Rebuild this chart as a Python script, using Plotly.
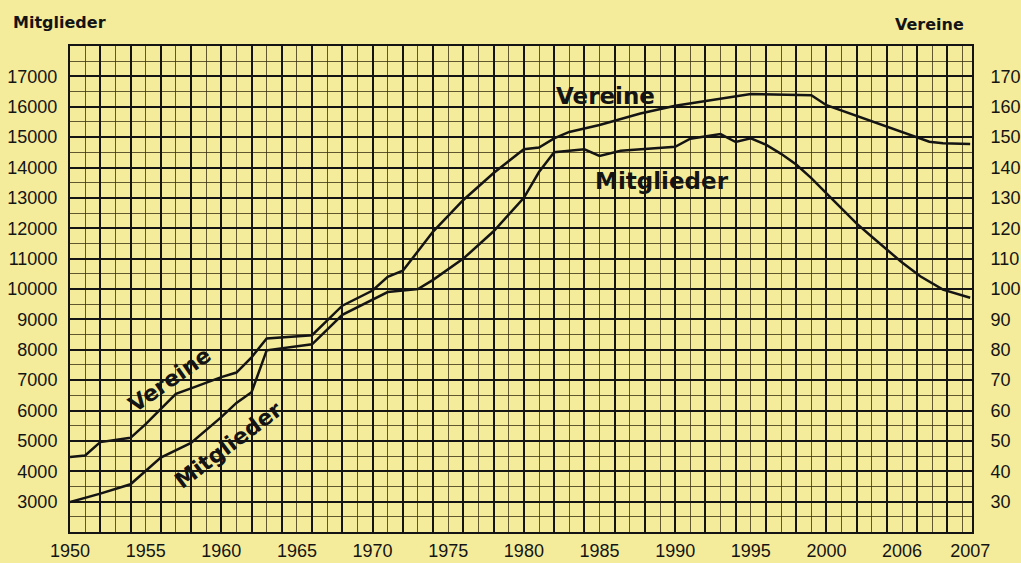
import plotly.graph_objects as go

# ---- data (x = position on the chart's time axis) ----
years_vereine = [1950, 1951, 1952, 1954, 1955, 1957, 1958, 1960, 1961, 1962, 1963, 1966,
                 1968, 1969, 1970, 1971, 1972, 1974, 1976, 1978, 1980, 1981, 1982, 1983,
                 1985, 1987.7, 1990, 1995, 1999, 2000, 2006, 2006.8, 2007.7, 2009.5]
vereine = [44.7, 45.2, 49.6, 51.0, 55.5, 65.5, 67.3, 71.0, 72.5, 77.5, 83.7, 84.8,
           94.5, 97.0, 99.5, 104.0, 106.0, 118.9, 129.3, 138.2, 146.0, 146.6, 149.6, 151.7,
           154.0, 157.8, 160.3, 164.2, 163.8, 160.5, 150.0, 148.5, 148.0, 147.7]

years_mitglieder = [1950, 1952, 1954, 1956, 1958, 1960, 1961, 1962, 1963, 1966, 1968, 1970,
                    1971, 1972, 1973, 1974, 1975, 1976, 1978, 1980, 1981, 1982, 1984, 1985,
                    1986.4, 1990, 1991, 1993, 1994, 1995, 1996, 1997, 1998, 1999, 2000,
                    2001, 2002, 2003, 2004, 2005, 2006.2, 2007.7, 2009.5]
mitglieder = [2990, 3262, 3570, 4450, 4930, 5780, 6250, 6600, 7980, 8180, 9150, 9650,
              9900, 9950, 10000, 10300, 10650, 11000, 11900, 13000, 13850, 14500, 14600, 14380,
              14550, 14680, 14950, 15100, 14840, 14960, 14750, 14450, 14100, 13650, 13150,
              12650, 12150, 11720, 11290, 10870, 10420, 9980, 9710]

x_tick_labels = ["1950", "1955", "1960", "1965", "1970", "1975", "1980", "1985",
                 "1990", "1995", "2000", "2006", "2007"]
x_tick_pos = [1950, 1955, 1960, 1965, 1970, 1975, 1980, 1985, 1990, 1995, 2000, 2005, 2009.5]
y_left_ticks = list(range(3000, 17001, 1000))
y_right_ticks = list(range(30, 171, 10))

BG = "#F5EC9B"
INK = "#141414"
FONT = "Liberation Sans, Arial, sans-serif"
BOLD = "DejaVu Sans, Arial, sans-serif"

fig = go.Figure()
fig.add_trace(go.Scatter(x=years_mitglieder, y=mitglieder, mode="lines",
                         line=dict(color=INK, width=2.5), xaxis="x", yaxis="y",
                         showlegend=False, hoverinfo="skip"))
fig.add_trace(go.Scatter(x=years_vereine, y=vereine, mode="lines",
                         line=dict(color=INK, width=2.5), xaxis="x", yaxis="y2",
                         showlegend=False, hoverinfo="skip"))
# same Mitglieder series bound to the label axis so that it is rendered (invisible)
fig.add_trace(go.Scatter(x=years_mitglieder, y=mitglieder, mode="lines",
                         line=dict(color="rgba(0,0,0,0)", width=0), xaxis="x2", yaxis="y",
                         showlegend=False, hoverinfo="skip"))

xr = [1950, 2009.62]
fig.update_layout(
    width=1021, height=563, autosize=False,
    margin=dict(l=70, r=49, t=46, b=31, autoexpand=False),
    paper_bgcolor=BG, plot_bgcolor=BG,
    font=dict(family=FONT, size=18, color=INK),
    xaxis=dict(range=xr, tick0=1950, dtick=2, showticklabels=False, ticks="",
               automargin=False,
               showgrid=True, gridcolor=INK, gridwidth=2,
               minor=dict(dtick=1, tick0=1950, showgrid=True,
                          gridcolor="rgba(60,50,20,0.8)", gridwidth=1),
               showline=True, linecolor=INK, linewidth=2, mirror=True, zeroline=False),
    xaxis2=dict(range=xr, overlaying="x", side="bottom", anchor="y", automargin=False,
                tickmode="array", tickvals=x_tick_pos, ticktext=x_tick_labels,
                ticks="outside", ticklen=2, tickcolor="rgba(0,0,0,0)",
                showgrid=False, zeroline=False, showline=False,
                tickfont=dict(family=FONT, size=18, color=INK)),
    yaxis=dict(range=[2000, 18000], tickmode="array", tickvals=y_left_ticks,
               tickformat="d", automargin=False,
               ticks="outside", ticklen=7, tickcolor="rgba(0,0,0,0)",
               showgrid=True, gridcolor=INK, gridwidth=2,
               minor=dict(dtick=500, tick0=2000, showgrid=True,
                          gridcolor="rgba(60,50,20,0.8)", gridwidth=1),
               showline=True, linecolor=INK, linewidth=2, mirror=True, zeroline=False,
               tickfont=dict(family=FONT, size=18, color=INK)),
    yaxis2=dict(range=[20, 180], overlaying="y", side="right", anchor="x",
                tickmode="array", tickvals=y_right_ticks, tickformat="d", automargin=False,
                ticks="outside", ticklen=14, tickcolor="rgba(0,0,0,0)",
                showgrid=False, zeroline=False, showline=False,
                tickfont=dict(family=FONT, size=18, color=INK)),
)

ann = []
# axis titles
ann.append(dict(text="<b>Mitglieder</b>", xref="paper", yref="paper", x=-0.0656, y=1.0,
                xanchor="left", yanchor="bottom", yshift=12, showarrow=False,
                font=dict(family=BOLD, size=16, color=INK)))
ann.append(dict(text="<b>Vereine</b>", xref="paper", yref="paper", x=0.953, y=1.0,
                xanchor="center", yanchor="bottom", yshift=10, showarrow=False,
                font=dict(family=BOLD, size=16, color=INK)))
# in-plot labels
ann.append(dict(text="<b>Vereine</b>", x=1985.4, y=16344, xref="x", yref="y",
                showarrow=False, font=dict(family=BOLD, size=23, color=INK)))
ann.append(dict(text="<b>Mitglieder</b>", x=1989.1, y=13557, xref="x", yref="y",
                showarrow=False, font=dict(family=BOLD, size=23, color=INK)))
ann.append(dict(text="<b>Vereine</b>", x=1956.6, y=7033, xref="x", yref="y",
                showarrow=False, textangle=-35, font=dict(family=BOLD, size=22, color=INK)))
ann.append(dict(text="<b>Mitglieder</b>", x=1960.45, y=4836, xref="x", yref="y",
                showarrow=False, textangle=-37, font=dict(family=BOLD, size=22, color=INK)))
fig.update_layout(annotations=ann)

fig.write_html("out.html", config={"displayModeBar": False},
               post_script=("document.body.style.margin='0';"
                            "document.body.style.overflow='hidden';"
                            "document.documentElement.style.overflow='hidden';"
                            "document.body.style.background='%s';" % BG))
